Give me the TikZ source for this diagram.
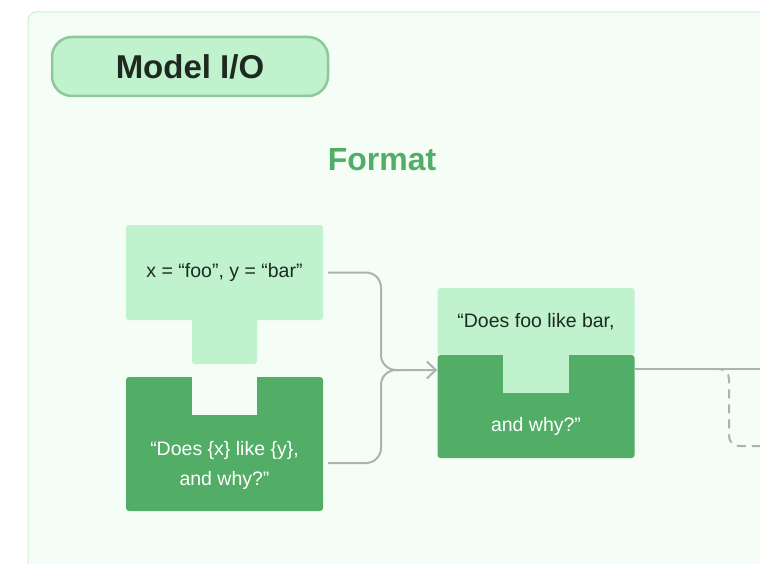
\documentclass[tikz,border=0pt]{standalone}
\usepackage{fontspec}
\setmainfont{Liberation Sans}
\usetikzlibrary{arrows.meta, calc, positioning}
\definecolor{panelbg}{HTML}{F5FDF7}
\definecolor{panelline}{HTML}{C8F0D2}
\definecolor{lightgreen}{HTML}{BFF2CD}
\definecolor{darkgreen}{HTML}{52AD67}
\definecolor{pillline}{HTML}{8FC79D}
\definecolor{inktext}{HTML}{1E2A21}
\definecolor{wiregray}{HTML}{B0B0B0}

\begin{document}
\begin{tikzpicture}[x=1pt, y=-1pt,
  lightbox/.style={fill=lightgreen, rounded corners=3pt, inner sep=0pt, text=inktext, font=\fontsize{19.5}{24}\selectfont},
  darkbox/.style={fill=darkgreen, rounded corners=3pt, inner sep=0pt},
  darktext/.style={text=white, align=center, inner sep=0pt, font=\fontsize{19.5}{30}\selectfont},
  pill/.style={fill=lightgreen, draw=pillline, line width=2.5pt, rounded corners=20pt, text=inktext, font=\bfseries\fontsize{33}{36}\selectfont},
  wire/.style={draw=wiregray, line width=2pt, rounded corners=15pt}]
\useasboundingbox (0,0) rectangle (760,564);
\clip (0,0) rectangle (760,564);
\draw[fill=panelbg, draw=panelline, line width=1pt, rounded corners=8pt] (28,12) rectangle (800,600);

\node[pill, minimum width=276pt, minimum height=59pt] (title) at (190,66.5) {Model I/O};
\node[text=darkgreen, font=\bfseries\fontsize{32}{36}\selectfont] (fmt) at (382,160) {Format};

% inputs
\node[lightbox, minimum width=197pt, minimum height=95pt] (vars) at (224.5,272.5) {x = “foo”, y = “bar”};
\fill[lightgreen, rounded corners=3pt] (192,314) rectangle (257,364);
\node[darkbox, minimum width=197pt, minimum height=134pt] (tmpl) at (224.5,444) {};
\fill[panelbg] (192,376) rectangle (257,415);
\node[darktext] (tmpltext) at ($(tmpl.center)+(0,21)$) {“Does \{x\} like \{y\},\\and why?”};

% formatted prompt
\node[lightbox, minimum width=197pt, minimum height=67pt] (prompt) at (536,321.5) {“Does foo like bar,};
\node[darkbox, minimum width=197pt, minimum height=103pt] (promptb) at (536,406.5) {};
\fill[lightgreen] (503,350) rectangle (569,393);
\node[darktext] (prompttext) at ($(promptb.center)+(0,20)$) {and why?”};

% connectors
\coordinate (merge) at (381,370);
\coordinate (exit) at (760,369);
\draw[wire, shorten <=5pt, -{Straight Barb[length=9pt, width=17pt]}] (vars.east) -| (merge) -- (merge -| promptb.west);
\draw[wire, shorten <=5pt] ([yshift=-19pt]tmpl.east) -| (merge) -- ++(20,0);
\draw[wire] (promptb.east |- exit) -- (exit);
\draw[wire, dash pattern=on 9pt off 6pt, rounded corners=10pt] (715,369) -| (729,446) -- (760,446);
\end{tikzpicture}
\end{document}
